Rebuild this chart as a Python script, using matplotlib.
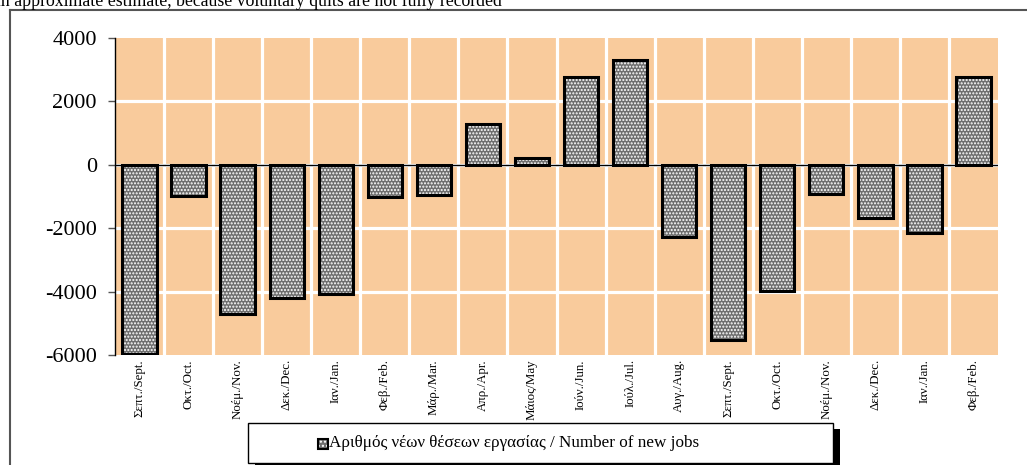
import matplotlib.pyplot as plt
import matplotlib.patches as mpatches
import numpy as np

months = ['Σεπτ./Sept.', 'Οκτ./Oct.', 'Νοέμ./Nov.', 'Δεκ./Dec.', 'Ιαν./Jan.',
          'Φεβ./Feb.', 'Μάρ./Mar.', 'Απρ./Apr.', 'Μάιος/May', 'Ιούν./Jun.',
          'Ιούλ./Jul.', 'Αυγ./Aug.', 'Σεπτ./Sept.', 'Οκτ./Oct.', 'Νοέμ./Nov.',
          'Δεκ./Dec.', 'Ιαν./Jan.', 'Φεβ./Feb.']
new_jobs = [-5970, -1000, -4700, -4200, -4080, -1030, -950, 1290, 200, 2770,
            3300, -2280, -5530, -3990, -930, -1690, -2160, 2770]
yticks = [-6000, -4000, -2000, 0, 2000, 4000]
legend_label = 'Αριθμός νέων θέσεων εργασίας / Number of new jobs'
note = 'an approximate estimate, because voluntary quits are not fully recorded'

plt.rcParams['font.family'] = ['Liberation Serif', 'DejaVu Serif']
plt.rcParams['hatch.linewidth'] = 1.0

W, H = 1027, 465
fig = plt.figure(figsize=(W / 100, H / 100), dpi=100)

# outer frame (top and left visible)
fig.add_artist(plt.Line2D([10 / W, 10 / W], [0, 1 - 10 / H], color='#555555', lw=1.5))
fig.add_artist(plt.Line2D([10 / W, 1], [1 - 10 / H, 1 - 10 / H], color='#555555', lw=1.5))

fig.text(-7 / W, 1 - 6 / H, note, fontsize=12.8, va='baseline', ha='left')

ax = fig.add_axes([115 / W, 1 - 355 / H, 883 / W, 317 / H])
ax.set_facecolor('#F9CB9C')
x = np.arange(len(months))

for i in range(len(months) - 1):
    ax.axvline(i + 0.5, color='white', lw=2.3, zorder=1)
for t in yticks[1:-1]:
    ax.axhline(t, color='white', lw=2.3, zorder=1)

ax.bar(x, new_jobs, width=0.7, color='#6e6e6e', edgecolor='white', hatch='.....',
       linewidth=0, zorder=2)
ax.bar(x, new_jobs, width=0.7, fill=False, edgecolor='black', linewidth=2.2, zorder=3)
ax.axhline(0, color='black', lw=1, zorder=4)

ax.set_xlim(-0.5, len(months) - 0.5)
ax.set_ylim(-6000, 4000)
ax.set_yticks(yticks)
ax.set_yticklabels([str(v) for v in yticks], fontsize=16)
ax.set_xticks(x)
ax.set_xticklabels(months, rotation=90, fontsize=9.3)
ax.tick_params(axis='x', length=0, pad=3)
ax.tick_params(axis='y', direction='out', length=5, width=1, color='#555555', pad=8)
for s in ['top', 'right', 'bottom']:
    ax.spines[s].set_visible(False)
ax.spines['left'].set_color('black')
ax.spines['left'].set_linewidth(1)

# legend box with shadow
lx0, ly0, lx1, ly1 = 248, 423, 833, 463
fig.add_artist(mpatches.Rectangle((lx0 + 7, H - ly1 - 6), lx1 - lx0, ly1 - ly0,
                                  transform=None, facecolor='black', edgecolor='none'))
fig.add_artist(mpatches.Rectangle((lx0, H - ly1), lx1 - lx0, ly1 - ly0,
                                  transform=None, facecolor='white', edgecolor='black', lw=1))
fig.add_artist(mpatches.Rectangle((318, H - 449), 10, 10, transform=None,
                                  facecolor='#6e6e6e', edgecolor='white', hatch='....', lw=0))
fig.add_artist(mpatches.Rectangle((318, H - 449), 10, 10, transform=None,
                                  fill=False, edgecolor='black', lw=1.5))
fig.text(329 / W, 1 - 443 / H, legend_label, fontsize=12.3, va='center', ha='left')

fig.savefig('out.png', dpi=100)
